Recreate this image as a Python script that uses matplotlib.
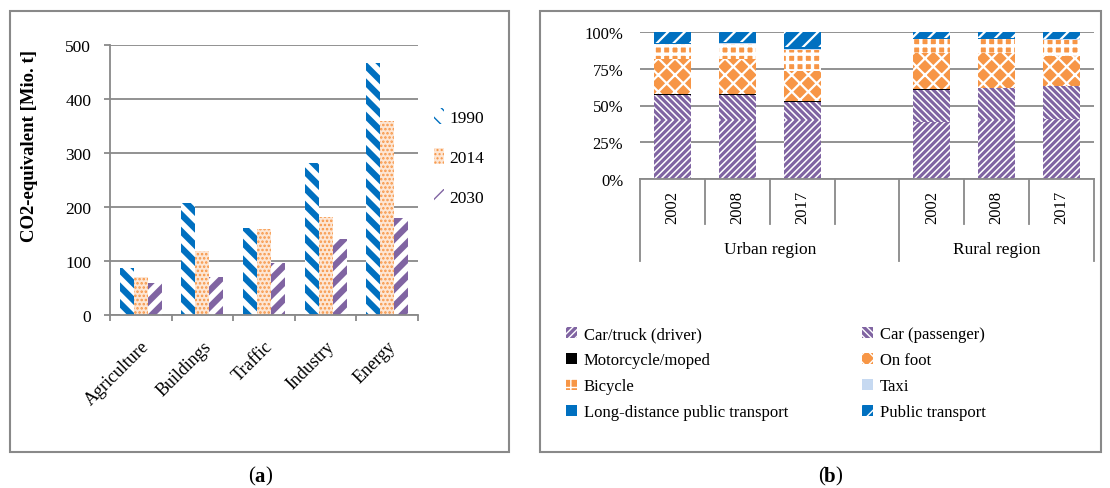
import matplotlib.pyplot as plt
import numpy as np
from matplotlib.patches import Rectangle

plt.rcParams['font.family'] = 'serif'
plt.rcParams['font.serif'] = ['Liberation Serif', 'DejaVu Serif']

GRAY = "#898989"
BLUE = "#0070C0"
ORANGE = "#F79646"
PURPLE = "#8064A2"

# (a) emissions per sector
sectors = ["Agriculture", "Buildings", "Traffic", "Industry", "Energy"]
co2_1990 = [87, 208, 162, 282, 466]
co2_2014 = [71, 119, 160, 181, 359]
co2_2030 = [59, 70, 97, 141, 179]

# (b) modal split in percent: urban 2002/2008/2017, rural 2002/2008/2017
years = ["2002", "2008", "2017", "2002", "2008", "2017"]
regions = ["Urban region", "Rural region"]
car_driver = [40, 40, 40, 39, 40, 41]
car_passenger = [17, 17, 12.5, 21.8, 21.7, 22]
motorcycle = [0.6, 0.5, 0.3, 0.7, 0.3, 0.5]
on_foot = [24.2, 24, 20.5, 24.5, 24, 20.5]
bicycle = [9.7, 10.5, 14.7, 9, 9.2, 10.8]
taxi = [0.5, 0.5, 0.5, 0.3, 0.3, 0.3]
long_distance = [0.5, 0.5, 1.5, 0.5, 0.5, 0.4]
public_transport = [7.5, 7, 10, 4.2, 4, 4.5]


def hatch_lw(bars, lw):
    for b in bars:
        if hasattr(b, "set_hatch_linewidth"):
            b.set_hatch_linewidth(lw)


def caption(xpix, letter):
    y = 1 - 477 / 489
    xf = xpix / 1110
    fig.text(xf - 5 / 1110, y, "(", ha="right", va="center", fontsize=15)
    fig.text(xf, y, letter, ha="center", va="center", fontsize=15,
             fontweight="bold")
    fig.text(xf + 5 / 1110, y, ")", ha="left", va="center", fontsize=15)


fig = plt.figure(figsize=(11.1, 4.89), dpi=100)

# panel frames
for x0, w in [(10, 499), (540, 561)]:
    fig.patches.append(Rectangle((x0 / 1110, 36 / 489), w / 1110, 441 / 489,
                                 transform=fig.transFigure, fill=False,
                                 edgecolor=GRAY, linewidth=1.5))

# ---------- (a) ----------
ax1 = fig.add_axes([110 / 1110, 173 / 489, 308 / 1110, 270 / 489])
x = np.arange(len(sectors))
w = 0.227
b1 = ax1.bar(x - w, co2_1990, w, facecolor="white", edgecolor=BLUE,
             hatch="\\\\", linewidth=0, label="1990")
b2 = ax1.bar(x, co2_2014, w, facecolor="#fde6d4", edgecolor=ORANGE,
             hatch="....", linewidth=0, label="2014")
b3 = ax1.bar(x + w, co2_2030, w, facecolor="white", edgecolor=PURPLE,
             hatch="//", linewidth=0, label="2030")
hatch_lw(b1, 4.5)
hatch_lw(b2, 1.2)
hatch_lw(b3, 4.5)

ax1.set_xlim(-0.5, len(sectors) - 0.5)
ax1.set_ylim(0, 500)
ax1.set_yticks(range(0, 501, 100))
ax1.grid(axis="y", color=GRAY, linewidth=1.3)
ax1.set_axisbelow(True)
for s in ["top", "right"]:
    ax1.spines[s].set_visible(False)
for s in ["left", "bottom"]:
    ax1.spines[s].set_color(GRAY)
    ax1.spines[s].set_linewidth(1.3)
ax1.tick_params(axis="y", length=4.5, width=1.3, color=GRAY, pad=9, labelsize=12.5)
ax1.set_xticks(x)
ax1.set_xticklabels(sectors, rotation=45, ha="right", rotation_mode="anchor",
                    fontsize=13)
ax1.tick_params(axis="x", length=0, pad=16)
ax1.set_xticks(np.arange(-0.5, len(sectors)), minor=True)
ax1.tick_params(axis="x", which="minor", length=4.5, width=1.3, color=GRAY)

fig.text(30 / 1110, 1 - 146 / 489, "CO2-equivalent [Mio. t]", rotation=90,
         ha="center", va="center", fontsize=13.5, fontweight="bold")

fig.legend(handles=[b1, b2, b3], loc="upper left",
           bbox_to_anchor=(434 / 1110, 1 - 109 / 489), frameon=False,
           fontsize=12.5, handlelength=0.6, handleheight=1.0,
           handletextpad=0.3, labelspacing=1.3, borderpad=0, borderaxespad=0)

caption(260, "a")
caption(830, "b")

# ---------- (b) ----------
ax2 = fig.add_axes([640 / 1110, 309 / 489, 454 / 1110, 147 / 489])
pos = np.array([0, 1, 2, 4, 5, 6])
bw = 0.57

modes = [
    ("Car/truck (driver)", car_driver, PURPLE, "white", "/////", 1.1),
    ("Car (passenger)", car_passenger, PURPLE, "white", "\\\\\\\\\\", 1.1),
    ("Motorcycle/moped", motorcycle, "black", "black", "", 0),
    ("On foot", on_foot, ORANGE, "white", "xx", 1.6),
    ("Bicycle", bicycle, ORANGE, "white", "++", 2.4),
    ("Taxi", taxi, "#C6D9F1", "#C6D9F1", "", 0),
    ("Long-distance public transport", long_distance, BLUE, BLUE, "", 0),
    ("Public transport", public_transport, BLUE, "white", "//", 1.6),
]
handles = []
bottom = np.zeros(len(pos))
for label, vals, fc, ec, hatch, hl in modes:
    bars = ax2.bar(pos, vals, bw, bottom=bottom, facecolor=fc, edgecolor=ec,
                   hatch=hatch or None, linewidth=0, label=label)
    if hl:
        hatch_lw(bars, hl)
    bottom += np.array(vals)
    handles.append(bars)

ax2.set_xlim(-0.5, 6.5)
ax2.set_ylim(0, 100)
ax2.set_yticks([0, 25, 50, 75, 100])
ax2.set_yticklabels(["0%", "25%", "50%", "75%", "100%"])
ax2.grid(axis="y", color=GRAY, linewidth=1.3)
ax2.set_axisbelow(True)
for s in ["top", "right", "left"]:
    ax2.spines[s].set_visible(False)
ax2.spines["bottom"].set_color(GRAY)
ax2.spines["bottom"].set_linewidth(1.3)
ax2.tick_params(axis="y", length=0, pad=12, labelsize=12)
ax2.set_xticks([])

trans = ax2.get_xaxis_transform()
for p, yr in zip(pos, years):
    ax2.text(p, -0.184, yr, transform=trans, rotation=90, ha="center",
             va="center", fontsize=12)
for xb in [0.5, 1.5, 2.5, 4.5, 5.5]:
    ax2.plot([xb, xb], [0, -0.306], transform=trans, color=GRAY,
             linewidth=1.3, clip_on=False)
for xb in [-0.5, 3.5, 6.5]:
    ax2.plot([xb, xb], [0, -0.558], transform=trans, color=GRAY,
             linewidth=1.3, clip_on=False)
ax2.text(1.5, -0.476, regions[0], transform=trans, ha="center", va="center",
         fontsize=12.5)
ax2.text(5.0, -0.476, regions[1], transform=trans, ha="center", va="center",
         fontsize=12.5)

leg_kw = dict(frameon=False, fontsize=12, handlelength=0.65, handleheight=0.65,
              handletextpad=0.4, labelspacing=0.6, borderpad=0,
              borderaxespad=0)
fig.legend(handles=handles[0::2], loc="upper left",
           bbox_to_anchor=(566 / 1110, 1 - 327 / 489), **leg_kw)
fig.legend(handles=handles[1::2], loc="upper left",
           bbox_to_anchor=(862 / 1110, 1 - 327 / 489), **leg_kw)

fig.savefig("out.png", dpi=100)
